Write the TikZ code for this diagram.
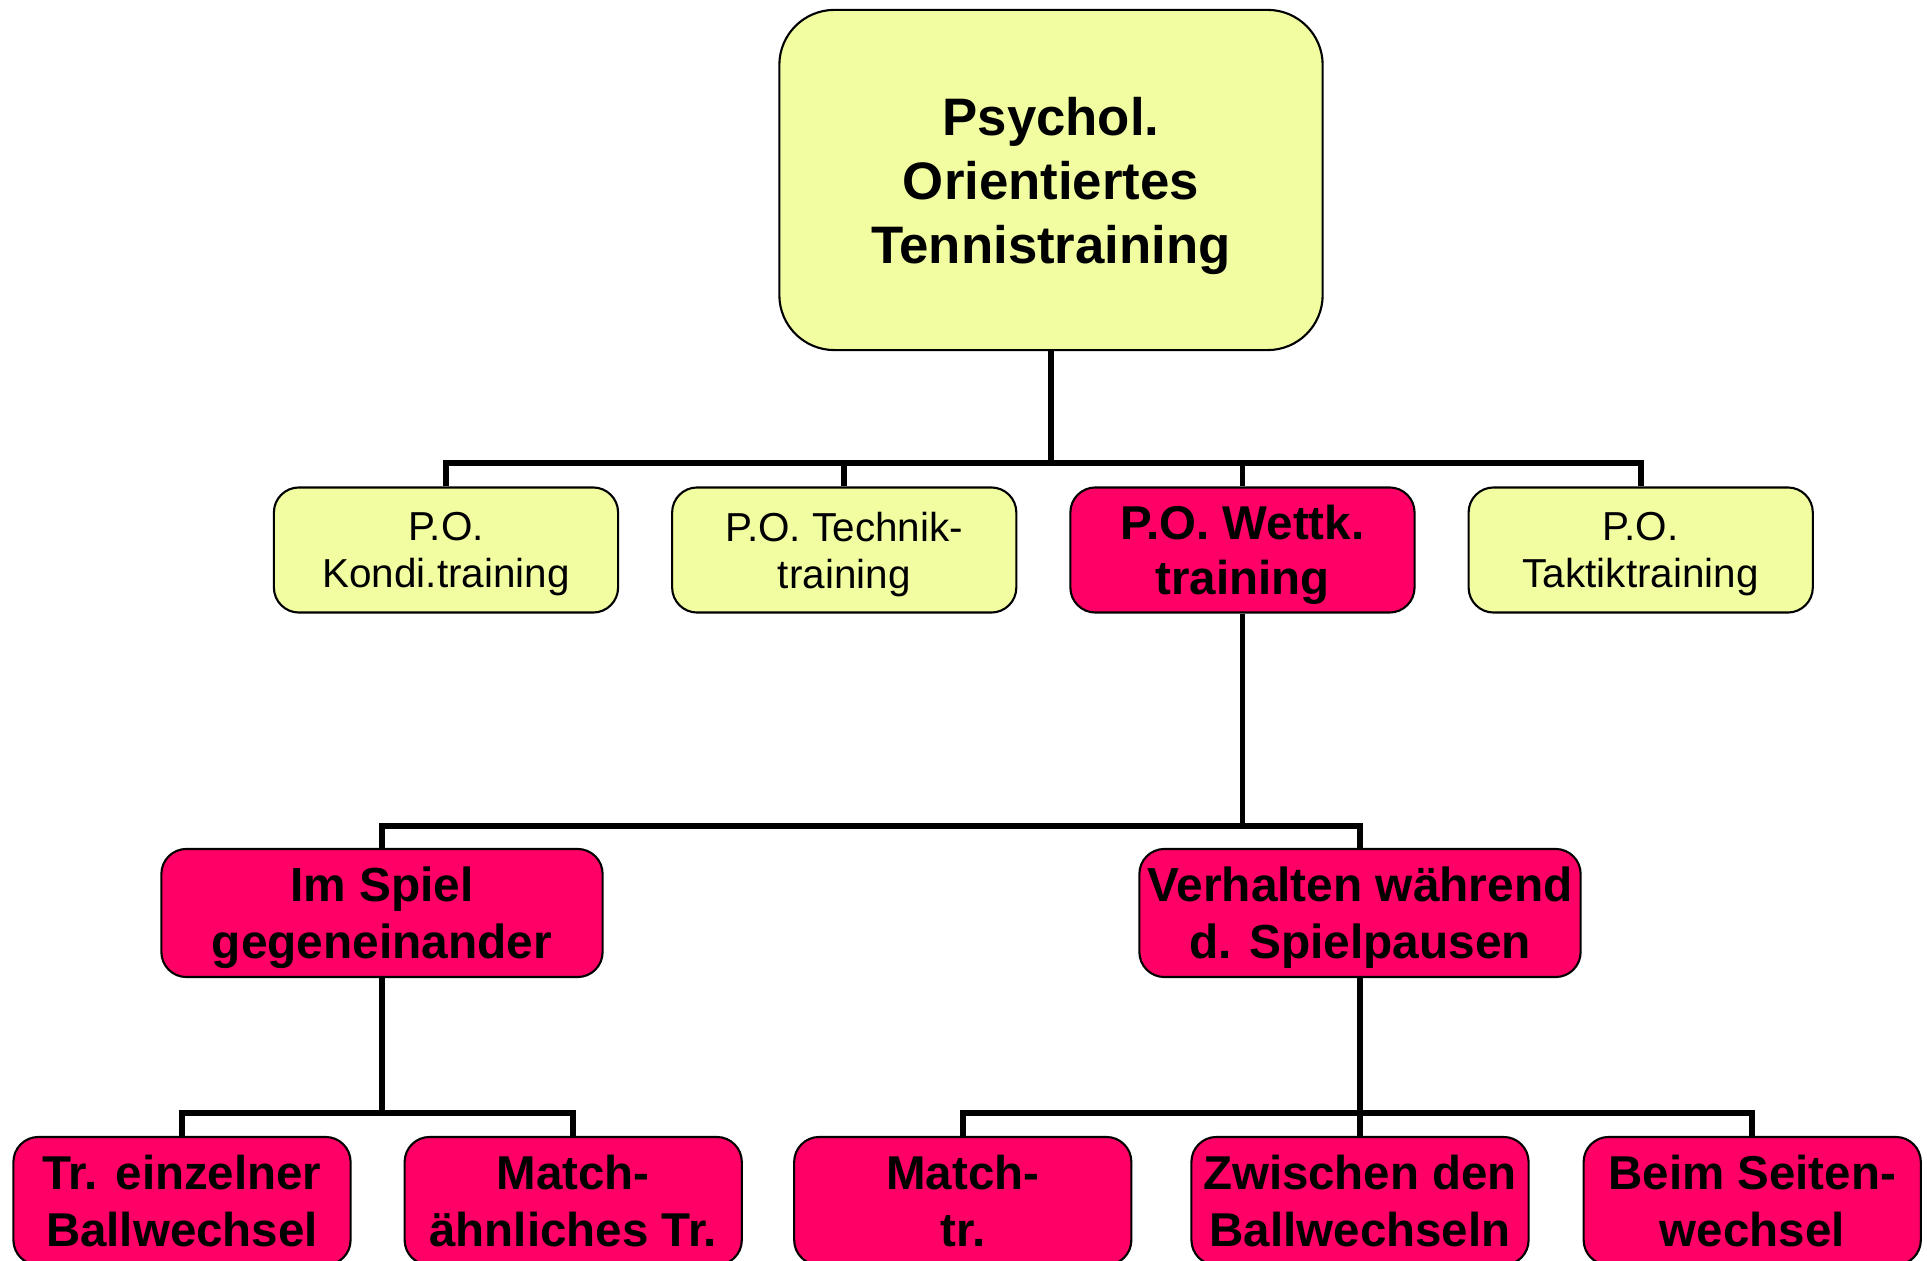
\documentclass[tikz,border=0pt]{standalone}
\usepackage{fontspec}
\setmainfont{Liberation Sans}
\usetikzlibrary{positioning}
\definecolor{paleyellow}{RGB}{241,253,160}
\definecolor{hotpink}{RGB}{255,0,102}

\begin{document}
\begin{tikzpicture}[x = 0.01cm, y = -0.01cm, align = center,
	main/.style = {draw, line width = 0.6pt, rounded corners = 0.25cm, inner sep = 0pt},
	root/.style = {main, fill = paleyellow, rounded corners = 0.55cm, minimum width = 5.43cm, minimum height = 3.4cm, text depth = 0pt, font = \fontsize{15}{18.2}\selectfont\bfseries},
	yel/.style = {main, fill = paleyellow, minimum width = 3.44cm, minimum height = 1.25cm, text depth = 0pt, font = \fontsize{11.5}{13.4}\selectfont},
	pink/.style = {main, fill = hotpink, minimum width = 3.44cm, minimum height = 1.25cm, font = \fontsize{13.5}{15.5}\selectfont\bfseries},
	wide/.style = {pink, minimum width = 4.41cm, minimum height = 1.28cm, text depth = 0pt, font = \fontsize{13.6}{16.2}\selectfont\bfseries},
	leaf/.style = {pink, minimum width = 3.37cm, minimum height = 1.28cm, font = \fontsize{13.5}{16.2}\selectfont\bfseries},
	conn/.style = {line width = 1.6pt}]
	\useasboundingbox (0,0) rectangle (1927,1261);
	\clip (0,0) rectangle (1927,1261);
	\node[root] (1) at (1051,180) {Psychol.\\ Orientiertes\\ Tennistraining};
	\node[yel] (2) at (446,550) {P.O.\\ Kondi.training};
	\node[yel, node distance = 3.98cm] (3) [right of = 2] {P.O. Technik-\\ training};
	\node[pink, text depth = 0pt, node distance = 3.98cm] (4) [right of = 3] {P.O. Wettk.\\ training};
	\node[yel, node distance = 3.98cm] (5) [right of = 4] {P.O.\\ Taktiktraining};
	\node[wide] (6) at (382,913) {Im Spiel\\ gegeneinander};
	\node[wide] (7) at (1360,913) {Verhalten während\\ d. Spielpausen};
	\node[leaf] (8) at (182,1201) {Tr. einzelner\\ Ballwechsel};
	\node[leaf, node distance = 3.91cm] (9) [right of = 8] {Match-\\ ähnliches Tr.};
	\node[leaf] (11) at (1360,1201) {Zwischen den\\ Ballwechseln};
	\node[leaf, node distance = 3.97cm] (10) [left of = 11] {Match-\\ tr.};
	\node[leaf, node distance = 3.92cm] (12) [right of = 11] {Beim Seiten-\\ wechsel};
	% bus levels
	\coordinate (b1) at (0,463);
	\coordinate (b2) at (0,826);
	\coordinate (b3) at (0,1113);
	\draw[conn] (1) -- (1 |- b1) -| (2);
	\draw[conn] (1) -- (1 |- b1) -| (3);
	\draw[conn] (1) -- (1 |- b1) -| (4);
	\draw[conn] (1) -- (1 |- b1) -| (5);
	\draw[conn] (4) -- (4 |- b2) -| (6);
	\draw[conn] (4) -- (4 |- b2) -| (7);
	\draw[conn] (6) -- (6 |- b3) -| (8);
	\draw[conn] (6) -- (6 |- b3) -| (9);
	\draw[conn] (7) -- (7 |- b3) -| (10);
	\draw[conn] (7) -- (7 |- b3) -| (11);
	\draw[conn] (7) -- (7 |- b3) -| (12);
\end{tikzpicture}
\end{document}
